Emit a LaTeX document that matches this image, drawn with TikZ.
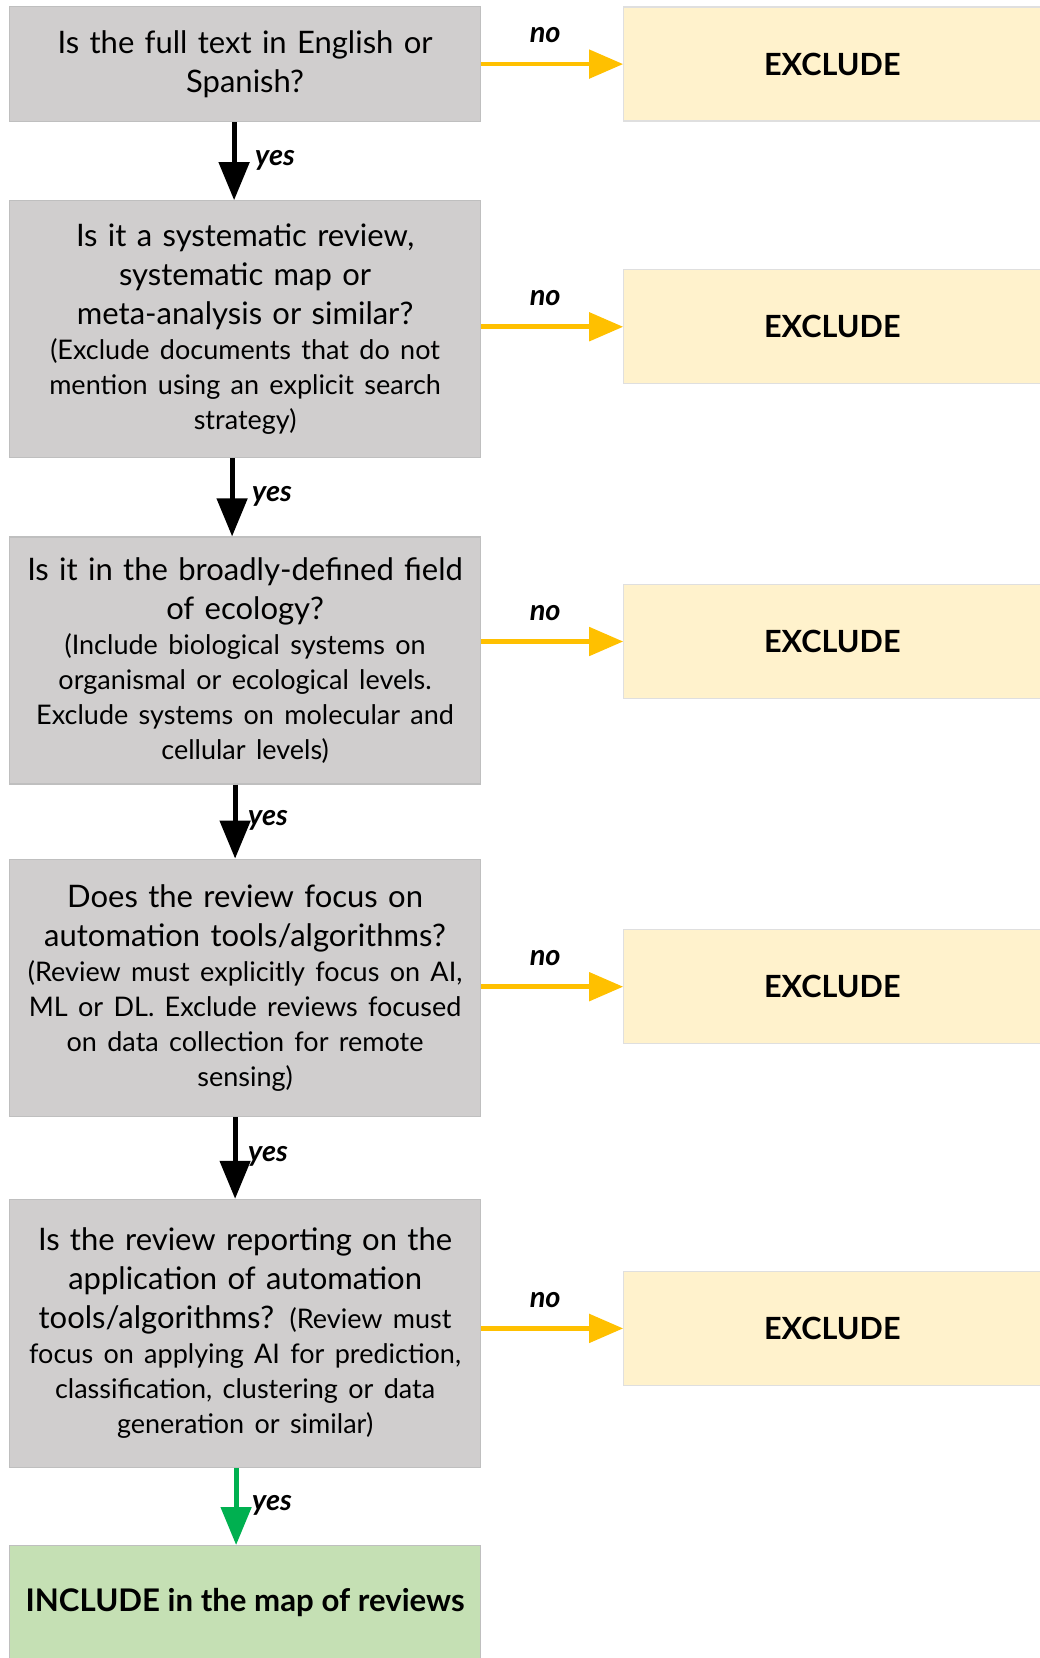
\documentclass[tikz,border=0pt]{standalone}
\usepackage{fontspec}
\setmainfont{Lato}
\usepackage{xcolor}
\definecolor{boxGrey}{RGB}{208,206,206}
\definecolor{boxLine}{RGB}{191,191,191}
\definecolor{excludeFill}{RGB}{255,242,204}
\definecolor{includeFill}{RGB}{197,224,180}
\definecolor{noOrange}{RGB}{255,192,0}
\definecolor{yesGreen}{RGB}{0,176,80}
\usetikzlibrary{arrows.meta, positioning}

\newcommand{\smalltxt}{\fontsize{13.5}{17.5}\selectfont}

\begin{document}
\begin{tikzpicture}[
  question/.style={rectangle, draw=boxLine, line width=0.6pt, fill=boxGrey,
                   text width=229pt, align=center, minimum width=235.5pt,
                   inner sep=0pt, font=\fontsize{15.5}{19.5}\selectfont},
  exclude/.style={rectangle, draw=boxLine!50, line width=0.6pt, fill=excludeFill,
                  minimum width=208.5pt, minimum height=57pt,
                  font=\fontsize{15.3}{18}\selectfont\bfseries},
  include/.style={rectangle, draw=boxLine, line width=0.6pt, fill=includeFill,
                  minimum width=235.5pt, minimum height=57pt,
                  font=\fontsize{15.6}{18}\selectfont\bfseries},
  yesarrow/.style={-{Triangle[length=19pt, width=15pt]}, line width=2.4pt, color=black},
  okarrow/.style={-{Triangle[length=19pt, width=15pt]}, line width=2.4pt, color=yesGreen},
  noarrow/.style={-{Triangle[length=17pt, width=14pt]}, line width=2.4pt, color=noOrange},
  lbl/.style={text=black, font=\fontsize{14.5}{16}\selectfont\bfseries\itshape},
  node distance=40pt and 71pt
]
\useasboundingbox (0,0) rectangle (519.5pt,-829pt);

% Preguntas de cribado (columna izquierda)
\node[question, minimum height=57.5pt, anchor=north west] (q1) at (4.5pt,-3pt)
  {Is the full text in English or\\Spanish?};
\node[question, minimum height=128.5pt, below=39pt of q1] (q2)
  {Is it a systematic review,\\systematic map or\\meta-analysis or similar?\par
   {\smalltxt (Exclude documents that do not\\mention using an explicit search\\strategy)\par}};
\node[question, minimum height=123.5pt, below=39pt of q2] (q3)
  {Is it in the broadly-defined field\\of ecology?\par
   {\smalltxt (Include biological systems on\\organismal or ecological levels.\\Exclude systems on molecular and\\cellular levels)\par}};
\node[question, minimum height=128.5pt, below=37pt of q3] (q4)
  {Does the review focus on\\automation tools/algorithms?\par
   {\smalltxt (Review must explicitly focus on AI,\\ML or DL. Exclude reviews focused\\on data collection for remote\\sensing)\par}};
\node[question, minimum height=134pt, below=41pt of q4] (q5)
  {Is the review reporting on the\\application of automation\\tools/algorithms? {\smalltxt (Review must}\par
   {\smalltxt focus on applying AI for prediction,\\classification, clustering or data\\generation or similar)\par}};
\node[include, below=38.5pt of q5] (inc) {INCLUDE in the map of reviews};

% Cajas de exclusion (columna derecha)
\node[exclude, right=of q1] (ex1) {EXCLUDE};
\node[exclude, right=of q2, yshift=1.25pt] (ex2) {EXCLUDE};
\node[exclude, right=of q3, yshift=9.5pt] (ex3) {EXCLUDE};
\node[exclude, right=of q4, yshift=0.5pt] (ex4) {EXCLUDE};
\node[exclude, right=of q5, yshift=2.5pt] (ex5) {EXCLUDE};

% Flechas "yes" hacia abajo
\draw[yesarrow] ([xshift=-5.5pt]q1.south) -- node[lbl, right, xshift=6pt, yshift=0.5pt] {yes} ([xshift=-5.5pt]q2.north);
\draw[yesarrow] ([xshift=-6.5pt]q2.south) -- node[lbl, right, xshift=5.5pt, yshift=0.5pt] {yes} ([xshift=-6.5pt]q3.north);
\draw[yesarrow] ([xshift=-5pt]q3.south) -- node[lbl, right, xshift=2pt, yshift=0.5pt] {yes} ([xshift=-5pt]q4.north);
\draw[yesarrow] ([xshift=-5pt]q4.south) -- node[lbl, right, xshift=2pt, yshift=0.5pt] {yes} ([xshift=-5pt]q5.north);
\draw[okarrow] ([xshift=-4.5pt]q5.south) -- node[lbl, right, xshift=3.5pt, yshift=0.5pt] {yes} ([xshift=-4.5pt]inc.north);

% Flechas "no" hacia la derecha
\draw[noarrow] (q1.east |- ex1.west) -- node[lbl, above=6pt, xshift=-3.5pt] {no} (ex1.west);
\draw[noarrow] (q2.east |- ex2.west) -- node[lbl, above=6pt, xshift=-3.5pt] {no} (ex2.west);
\draw[noarrow] (q3.east |- ex3.west) -- node[lbl, above=6pt, xshift=-3.5pt] {no} (ex3.west);
\draw[noarrow] (q4.east |- ex4.west) -- node[lbl, above=6pt, xshift=-3.5pt] {no} (ex4.west);
\draw[noarrow] (q5.east |- ex5.west) -- node[lbl, above=6pt, xshift=-3.5pt] {no} (ex5.west);

\end{tikzpicture}
\end{document}
